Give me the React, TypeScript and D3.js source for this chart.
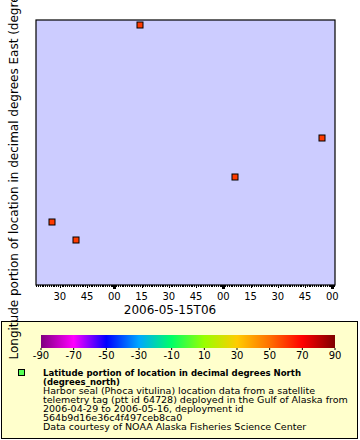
import React, { useEffect, useRef } from 'react';
import * as d3 from 'd3';

// seal track fixes (UTC)
const times = [
  '2006-05-15T04:25:42Z',
  '2006-05-15T04:38:55Z',
  '2006-05-15T05:14:10Z',
  '2006-05-15T06:06:25Z',
  '2006-05-15T06:54:20Z',
];
const longitudes = [-146.3762, -146.383, -146.3019, -146.3592, -146.3444];
const latitudes = [59.61, 59.6, 59.62, 59.59, 59.6];

const timeDomain = ['2006-05-15T04:16:54Z', '2006-05-15T07:01:30Z'];
const lonDomain = [-146.4, -146.3];

const colorTicks = [-90, -70, -50, -30, -10, 10, 30, 50, 70, 90];
const colorStops = ['#7f007f', '#ff00ff', '#0000ff', '#00a8ff', '#00ff66', '#99ff00', '#ffcc00', '#ff7000', '#ff0000', '#7f0000'];

const legendLines = [
  'Harbor seal (Phoca vitulina) location data from a satellite',
  'telemetry tag (ptt id 64728) deployed in the Gulf of Alaska from',
  '2006-04-29 to 2006-05-16, deployment id',
  '564b9d16e36c4f497ceb8ca0',
  'Data courtesy of NOAA Alaska Fisheries Science Center',
];

const App = () => {
  const svgRef = useRef(null);

  useEffect(() => {
    const W = 360;
    const H = 440;
    const plot = { left: 36, right: 335, top: 20, bottom: 285 };
    const font = 'DejaVu Sans, sans-serif';

    const svg = d3.select(svgRef.current);
    svg.selectAll('*').remove();
    svg.attr('width', W).attr('height', H);

    const x = d3.scaleUtc()
      .domain(timeDomain.map(t => new Date(t)))
      .range([plot.left, plot.right]);
    const y = d3.scaleLinear()
      .domain(lonDomain)
      .range([plot.bottom, plot.top]);
    const color = d3.scaleLinear<string>()
      .domain(colorTicks)
      .range(colorStops)
      .interpolate(d3.interpolateRgb);

    // plot background
    svg.append('rect')
      .attr('x', plot.left)
      .attr('y', plot.top)
      .attr('width', plot.right - plot.left)
      .attr('height', plot.bottom - plot.top)
      .attr('fill', '#ccccff')
      .attr('stroke', '#000')
      .attr('stroke-width', 1.2);

    // minute ticks
    const minuteTicks = d3.utcMinute.range(x.domain()[0], x.domain()[1]);
    svg.append('g')
      .selectAll('line')
      .data(minuteTicks)
      .enter()
      .append('line')
      .attr('x1', d => Math.round(x(d)) + 0.5)
      .attr('x2', d => Math.round(x(d)) + 0.5)
      .attr('y1', plot.bottom)
      .attr('y2', d => plot.bottom + (d.getUTCMinutes() === 0 ? 4 : d.getUTCMinutes() % 15 === 0 ? 3 : 2))
      .attr('stroke', '#000')
      .attr('stroke-width', d => (d.getUTCMinutes() === 0 ? 3 : 1));

    // 15 minute labels
    const labelTicks = x.ticks(d3.utcMinute.every(15));
    svg.append('g')
      .selectAll('text')
      .data(labelTicks)
      .enter()
      .append('text')
      .attr('x', d => x(d))
      .attr('y', plot.bottom + 15)
      .attr('text-anchor', 'middle')
      .style('font-family', font)
      .style('font-size', '10px')
      .text(d => d3.utcFormat('%M')(d));

    svg.append('text')
      .attr('x', 170)
      .attr('y', 314)
      .attr('text-anchor', 'middle')
      .style('font-family', font)
      .style('font-size', '12px')
      .text('2006-05-15T06');

    // markers
    svg.append('g')
      .selectAll('rect')
      .data(times.map((t, i) => ({ t: new Date(t), lon: longitudes[i], lat: latitudes[i] })))
      .enter()
      .append('rect')
      .attr('x', d => Math.round(x(d.t)) - 3)
      .attr('y', d => Math.round(y(d.lon)) - 3)
      .attr('width', 6)
      .attr('height', 6)
      .attr('fill', d => color(d.lat))
      .attr('stroke', '#000')
      .attr('stroke-width', 1);

    // legend box
    svg.append('rect')
      .attr('x', 1.5)
      .attr('y', 321.5)
      .attr('width', 356)
      .attr('height', 117)
      .attr('fill', '#ffffcc')
      .attr('stroke', '#000')
      .attr('stroke-width', 1);

    // colour bar
    const cb = { left: 41, right: 335, top: 335, bottom: 348 };
    const cx = d3.scaleLinear().domain([-90, 90]).range([cb.left, cb.right]);
    const grad = svg.append('defs').append('linearGradient')
      .attr('id', 'cbar')
      .attr('x1', '0%').attr('x2', '100%').attr('y1', '0%').attr('y2', '0%');
    grad.selectAll('stop')
      .data(colorTicks)
      .enter()
      .append('stop')
      .attr('offset', d => `${((d + 90) / 180) * 100}%`)
      .attr('stop-color', d => color(d));
    svg.append('rect')
      .attr('x', cb.left)
      .attr('y', cb.top)
      .attr('width', cb.right - cb.left)
      .attr('height', cb.bottom - cb.top)
      .attr('fill', 'url(#cbar)');
    svg.append('g')
      .selectAll('line')
      .data(colorTicks)
      .enter()
      .append('line')
      .attr('x1', d => cx(d))
      .attr('x2', d => cx(d))
      .attr('y1', cb.bottom)
      .attr('y2', cb.bottom + 2)
      .attr('stroke', '#000');
    svg.append('g')
      .selectAll('text')
      .data(colorTicks)
      .enter()
      .append('text')
      .attr('x', d => cx(d))
      .attr('y', 359)
      .attr('text-anchor', 'middle')
      .style('font-family', font)
      .style('font-size', '10px')
      .text(d => d);

    // legend entry
    svg.append('rect')
      .attr('x', 18.5)
      .attr('y', 369.5)
      .attr('width', 6)
      .attr('height', 6)
      .attr('fill', '#55ff55')
      .attr('stroke', '#000');

    svg.append('text')
      .attr('x', 43)
      .attr('y', 376)
      .attr('textLength', 258)
      .attr('lengthAdjust', 'spacingAndGlyphs')
      .style('font-family', font)
      .style('font-size', '9.5px')
      .style('font-weight', 'bold')
      .text('Latitude portion of location in decimal degrees North');
    svg.append('text')
      .attr('x', 43)
      .attr('y', 385)
      .attr('textLength', 77)
      .attr('lengthAdjust', 'spacingAndGlyphs')
      .style('font-family', font)
      .style('font-size', '9.5px')
      .style('font-weight', 'bold')
      .text('(degrees_north)');
    svg.append('g')
      .selectAll('text')
      .data(legendLines)
      .enter()
      .append('text')
      .attr('x', 43)
      .attr('y', (d, i) => 394 + i * 9)
      .style('font-family', font)
      .style('font-size', '9.5px')
      .text(d => d);

    // y axis title, drawn last so it sits over the legend
    svg.append('text')
      .attr('transform', `translate(17.5,${(plot.top + plot.bottom) / 2}) rotate(-90)`)
      .attr('text-anchor', 'middle')
      .style('font-family', font)
      .style('font-size', '12px')
      .text('Longitude portion of location in decimal degrees East (degrees_east)');
  }, []);

  return (
    <svg ref={svgRef} style={{ position: 'absolute', left: 0, top: 0 }}></svg>
  );
};

export default App;
